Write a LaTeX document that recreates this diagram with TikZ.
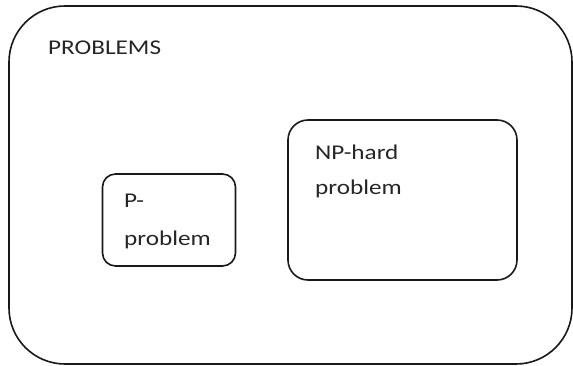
\documentclass[tikz,border=0pt]{standalone}
\usepackage{fontspec}
\setmainfont{Carlito}[FakeStretch=1.2]
\begin{document}
\begin{tikzpicture}[x=1pt,y=-1pt,
  boxstyle/.style={draw=black!90, line width=1.6pt, rounded corners=#1, inner sep=0pt},
  lbl/.style={anchor=base west, inner sep=0pt, font=\fontsize{21}{25}\selectfont, text=black!85}]
\useasboundingbox (0,0) rectangle (573,366);
\node[boxstyle=56pt, minimum width=563pt, minimum height=358pt] (outer) at (290.5,185) {};
\node[boxstyle=13pt, minimum width=133pt, minimum height=92pt] (pbox) at (169,220) {};
\node[boxstyle=20pt, minimum width=229pt, minimum height=160pt] (npbox) at (402.5,200) {};
\node[lbl] (title) at (48,55) {PROBLEMS};
\node[lbl] (p1) at (124,208) {P-};
\node[lbl] (p2) at (124,245) {problem};
\node[lbl] (np1) at (315,160) {NP-hard};
\node[lbl] (np2) at (315,195) {problem};
\end{tikzpicture}
\end{document}
